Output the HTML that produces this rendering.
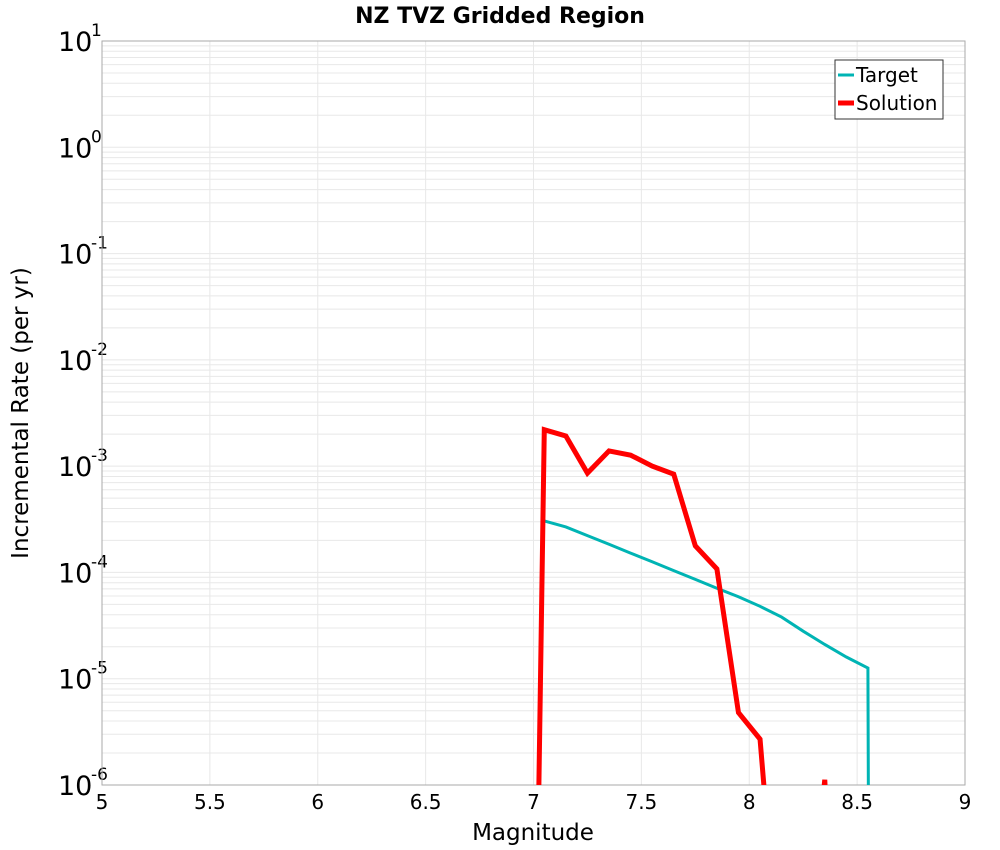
<!DOCTYPE html>
<html><head><meta charset="utf-8"><style>
html,body{margin:0;padding:0;background:#fff;overflow:hidden;font-family:"DejaVu Sans","Liberation Sans",sans-serif;}
svg{display:block;}
</style></head><body>
<svg id="chart" width="1000" height="850" xmlns="http://www.w3.org/2000/svg">
<text x="500" y="23" text-anchor="middle" font-size="22" font-weight="bold">NZ TVZ Gridded Region</text>
<g id="grid"></g>
<g id="axes"></g>
<g id="series"></g>
<text x="533" y="840" text-anchor="middle" font-size="23">Magnitude</text>
<text transform="translate(28,413) rotate(-90)" text-anchor="middle" font-size="23">Incremental Rate (per yr)</text>
<g>
<rect x="835" y="60" width="108" height="59" fill="#fff" stroke="#333" stroke-width="1"/>
<line x1="838" y1="75" x2="854" y2="75" stroke="#00b4b4" stroke-width="3"/>
<text x="856" y="82" font-size="20">Target</text>
<line x1="838" y1="103" x2="854" y2="103" stroke="#ff0000" stroke-width="5"/>
<text x="856" y="110" font-size="20">Solution</text>
</g>
</svg>
<script>
const xTicks=[5,5.5,6,6.5,7,7.5,8,8.5,9];
const yExps=[1,0,-1,-2,-3,-4,-5,-6];
const targetMags=[7.05,7.15,7.25,7.35,7.45,7.55,7.65,7.75,7.85,7.95,8.05,8.15,8.25,8.35,8.45,8.55,8.65];
const targetRates=[3.05e-4,2.68e-4,2.22e-4,1.84e-4,1.52e-4,1.26e-4,1.04e-4,8.6e-5,7.1e-5,5.9e-5,4.8e-5,3.8e-5,2.8e-5,2.1e-5,1.6e-5,1.26e-5,1e-60];
const solMags=[6.95,7.05,7.15,7.25,7.35,7.45,7.55,7.65,7.75,7.85,7.95,8.05,8.15,8.25,8.35,8.45];
const solRates=[1e-16,2.2e-3,1.92e-3,8.6e-4,1.39e-3,1.27e-3,1.0e-3,8.4e-4,1.78e-4,1.08e-4,4.8e-6,2.7e-6,1e-8,1e-8,1.12e-6,1e-10];
const L=102,R=965,T=41,B=785;
const xs=v=>L+(v-5)/(9-5)*(R-L);
const ys=v=>T+(1-Math.log10(v))/7*(B-T);
const NS="http://www.w3.org/2000/svg";
function mk(tag,attrs,parent){const e=document.createElementNS(NS,tag);for(const k in attrs)e.setAttribute(k,attrs[k]);parent.appendChild(e);return e;}
const grid=document.getElementById('grid'),axes=document.getElementById('axes'),series=document.getElementById('series');
for(let e=-6;e<1;e++)for(let m=1;m<10;m++){const y=ys(m*Math.pow(10,e));
 const l=mk('line',{x1:L,x2:R,y1:y,y2:y,stroke:'#e8e8e8','stroke-width':1},grid);
 
 }
xTicks.forEach(t=>{const x=xs(t);
 const l=mk('line',{x1:x,x2:x,y1:T,y2:B,stroke:'#e8e8e8','stroke-width':1},grid);
 
 
 const tx=mk('text',{x:x,y:809,'text-anchor':'middle','font-size':20},axes);tx.textContent=t;
 
 });
yExps.forEach(e=>{const y=ys(Math.pow(10,e));
 const tx=mk('text',{x:58,y:y+10,'font-size':27},axes);
 
 
 const a=document.createElementNS(NS,'tspan');a.textContent='10';tx.appendChild(a);
 const b=document.createElementNS(NS,'tspan');b.setAttribute('dy','-15');b.setAttribute('font-size','17');b.setAttribute('x','91');b.textContent=e;tx.appendChild(b);});
const fr=mk('rect',{x:L,y:T,width:R-L,height:B-T,fill:'none',stroke:'#aaa','stroke-width':1},axes);


const cp=mk('clipPath',{id:'clip'},series);mk('rect',{x:L,y:T,width:R-L,height:B-T},cp);
const pt=(m,r)=>m.map((v,i)=>xs(v)+','+ys(r[i])).join(' ');
const tl=mk('polyline',{points:pt(targetMags,targetRates),fill:'none',stroke:'#00b4b4','stroke-width':3,'clip-path':'url(#clip)'},series);


const sl=mk('polyline',{points:pt(solMags,solRates),fill:'none',stroke:'#ff0000','stroke-width':5,'clip-path':'url(#clip)'},series);


</script>
</body></html>
